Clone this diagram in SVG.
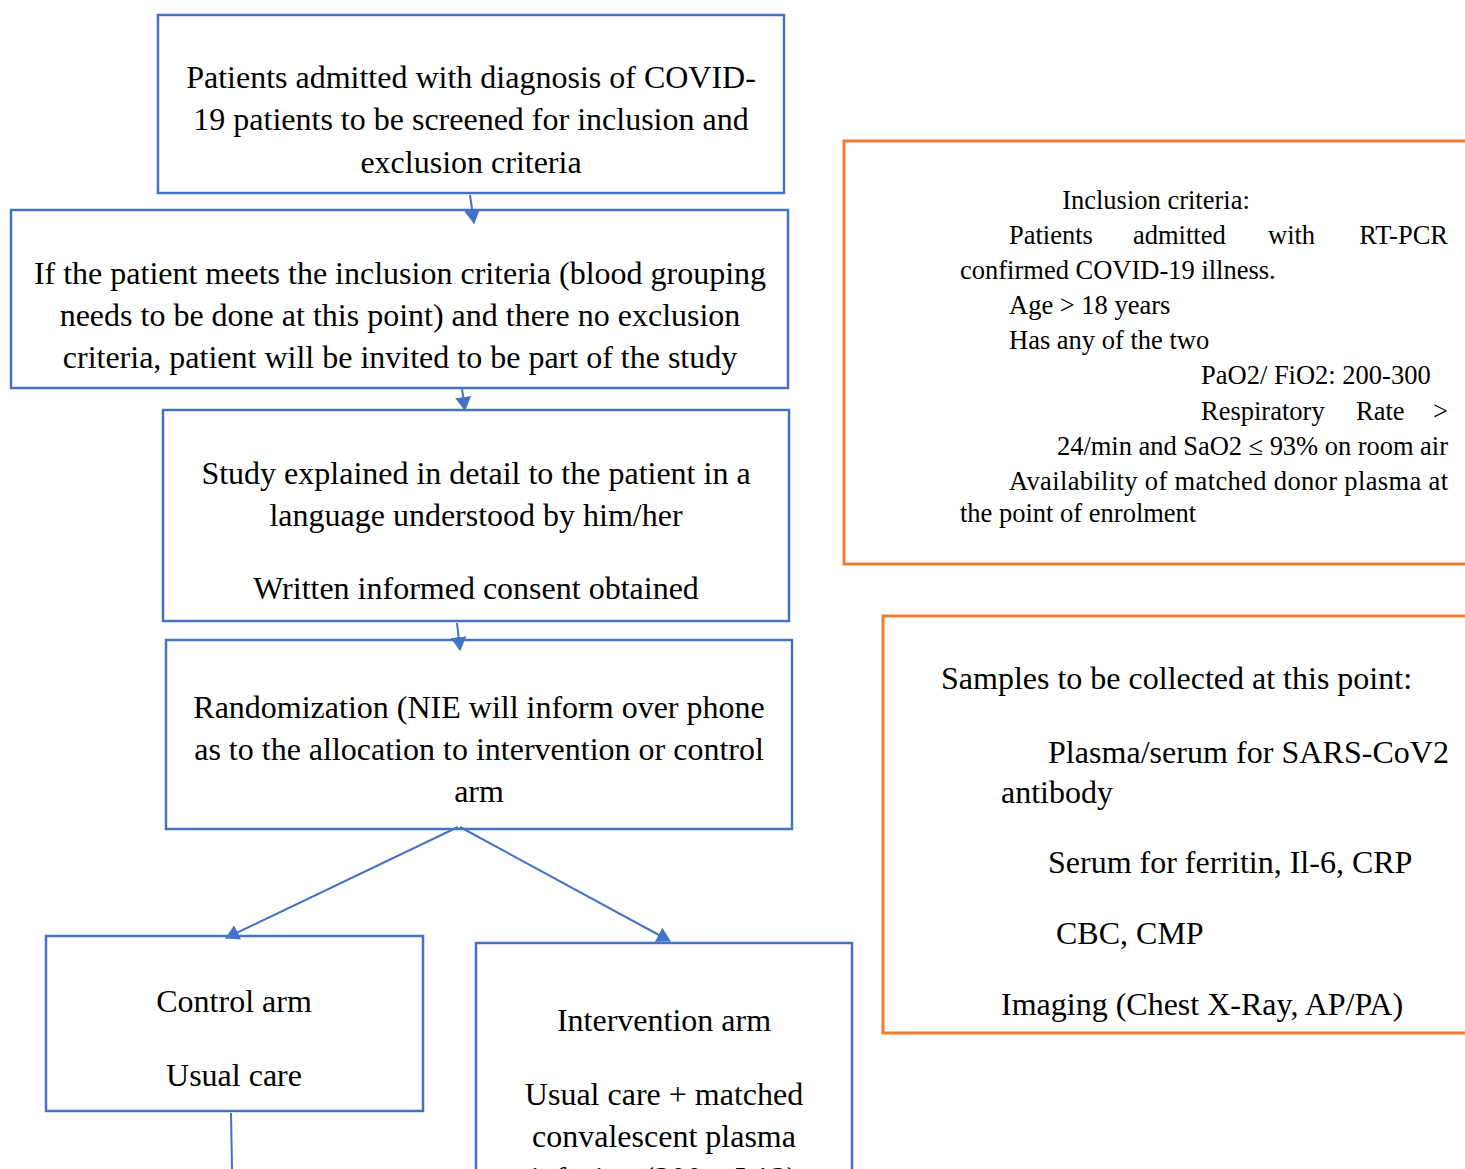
<svg xmlns="http://www.w3.org/2000/svg" width="1465" height="1169" viewBox="0 0 1465 1169">
<defs>
<style>
.b{fill:#fff;stroke:#4472C4;stroke-width:2.5}
.o{fill:#fff;stroke:#ED7D31;stroke-width:3}
text{font-family:'Liberation Serif','Times New Roman','DejaVu Serif',serif;fill:#000}
.t{font-size:32px}
.c{text-anchor:middle}
.s{font-size:26.5px}
.e{text-anchor:end}
.l{stroke:#4472C4;stroke-width:2;fill:none}
</style>
<marker id="ah" viewBox="0 0 14 16" refX="13" refY="8" markerWidth="14" markerHeight="16" orient="auto" markerUnits="userSpaceOnUse">
<path d="M0,0 L14,8 L0,16 z" fill="#4472C4"/>
</marker>
</defs>
<rect width="1465" height="1169" fill="#fff"/>

<g id="n1">
<rect class="b" x="158" y="15" width="626" height="178"/>
<text class="t c" x="471" y="88">Patients admitted with diagnosis of COVID-</text>
<text class="t c" x="471" y="130">19 patients to be screened for inclusion and</text>
<text class="t c" x="471" y="173">exclusion criteria</text>
</g>

<g id="n2">
<rect class="b" x="11" y="210" width="777" height="178"/>
<text class="t c" x="400" y="284">If the patient meets the inclusion criteria (blood grouping</text>
<text class="t c" x="400" y="326">needs to be done at this point) and there no exclusion</text>
<text class="t c" x="400" y="368">criteria, patient will be invited to be part of the study</text>
</g>

<g id="n3">
<rect class="b" x="163" y="410" width="626" height="211"/>
<text class="t c" x="476" y="484">Study explained in detail to the patient in a</text>
<text class="t c" x="476" y="526">language understood by him/her</text>
<text class="t c" x="476" y="599">Written informed consent obtained</text>
</g>

<g id="n4">
<rect class="b" x="166" y="640" width="626" height="189"/>
<text class="t c" x="479" y="718">Randomization (NIE will inform over phone</text>
<text class="t c" x="479" y="760">as to the allocation to intervention or control</text>
<text class="t c" x="479" y="802">arm</text>
</g>

<g id="n5">
<rect class="b" x="46" y="936" width="377" height="175"/>
<text class="t c" x="234" y="1012">Control arm</text>
<text class="t c" x="234" y="1086">Usual care</text>
</g>

<g id="n6">
<rect class="b" x="476" y="943" width="376" height="240"/>
<text class="t c" x="664" y="1031">Intervention arm</text>
<text class="t c" x="664" y="1105">Usual care + matched</text>
<text class="t c" x="664" y="1147">convalescent plasma</text>
<text class="t c" x="664" y="1189">infusion (200 mL*2)</text>
</g>

<g id="n7">
<rect class="o" x="844" y="141" width="640" height="423"/>
<text class="s c" x="1156" y="209">Inclusion criteria:</text>
<text class="s" x="1009" y="244">Patients</text>
<text class="s" x="1133" y="244">admitted</text>
<text class="s" x="1268" y="244">with</text>
<text class="s e" x="1448" y="244">RT-PCR</text>
<text class="s" x="960" y="279">confirmed COVID-19 illness.</text>
<text class="s" x="1009" y="314">Age &gt; 18 years</text>
<text class="s" x="1009" y="349">Has any of the two</text>
<text class="s" x="1201" y="384">PaO2/ FiO2: 200-300</text>
<text class="s" x="1201" y="420">Respiratory</text>
<text class="s" x="1356" y="420">Rate</text>
<text class="s e" x="1448" y="420">&gt;</text>
<text class="s" x="1057" y="455" textLength="391" lengthAdjust="spacing">24/min and SaO2 ≤ 93% on room air</text>
<text class="s" x="1009" y="490" textLength="439" lengthAdjust="spacing">Availability of matched donor plasma at</text>
<text class="s" x="960" y="522">the point of enrolment</text>
</g>

<g id="n8">
<rect class="o" x="883" y="616" width="600" height="417"/>
<text class="t" x="941" y="689">Samples to be collected at this point:</text>
<text class="t" x="1048" y="763" textLength="401" lengthAdjust="spacing">Plasma/serum for SARS-CoV2</text>
<text class="t" x="1001" y="803">antibody</text>
<text class="t" x="1048" y="873">Serum for ferritin, Il-6, CRP</text>
<text class="t" x="1056" y="944">CBC, CMP</text>
<text class="t" x="1001" y="1015">Imaging (Chest X-Ray, AP/PA)</text>
</g>

<g id="connectors">
<line class="l" x1="470" y1="195" x2="474" y2="223" marker-end="url(#ah)"/>
<line class="l" x1="462" y1="389" x2="465" y2="410" marker-end="url(#ah)"/>
<line class="l" x1="457" y1="623" x2="460" y2="650" marker-end="url(#ah)"/>
<line class="l" x1="458" y1="827" x2="226" y2="938" marker-end="url(#ah)"/>
<line class="l" x1="460" y1="827" x2="670" y2="941" marker-end="url(#ah)"/>
<line class="l" x1="231" y1="1113" x2="232" y2="1169"/>
</g>
</svg>
